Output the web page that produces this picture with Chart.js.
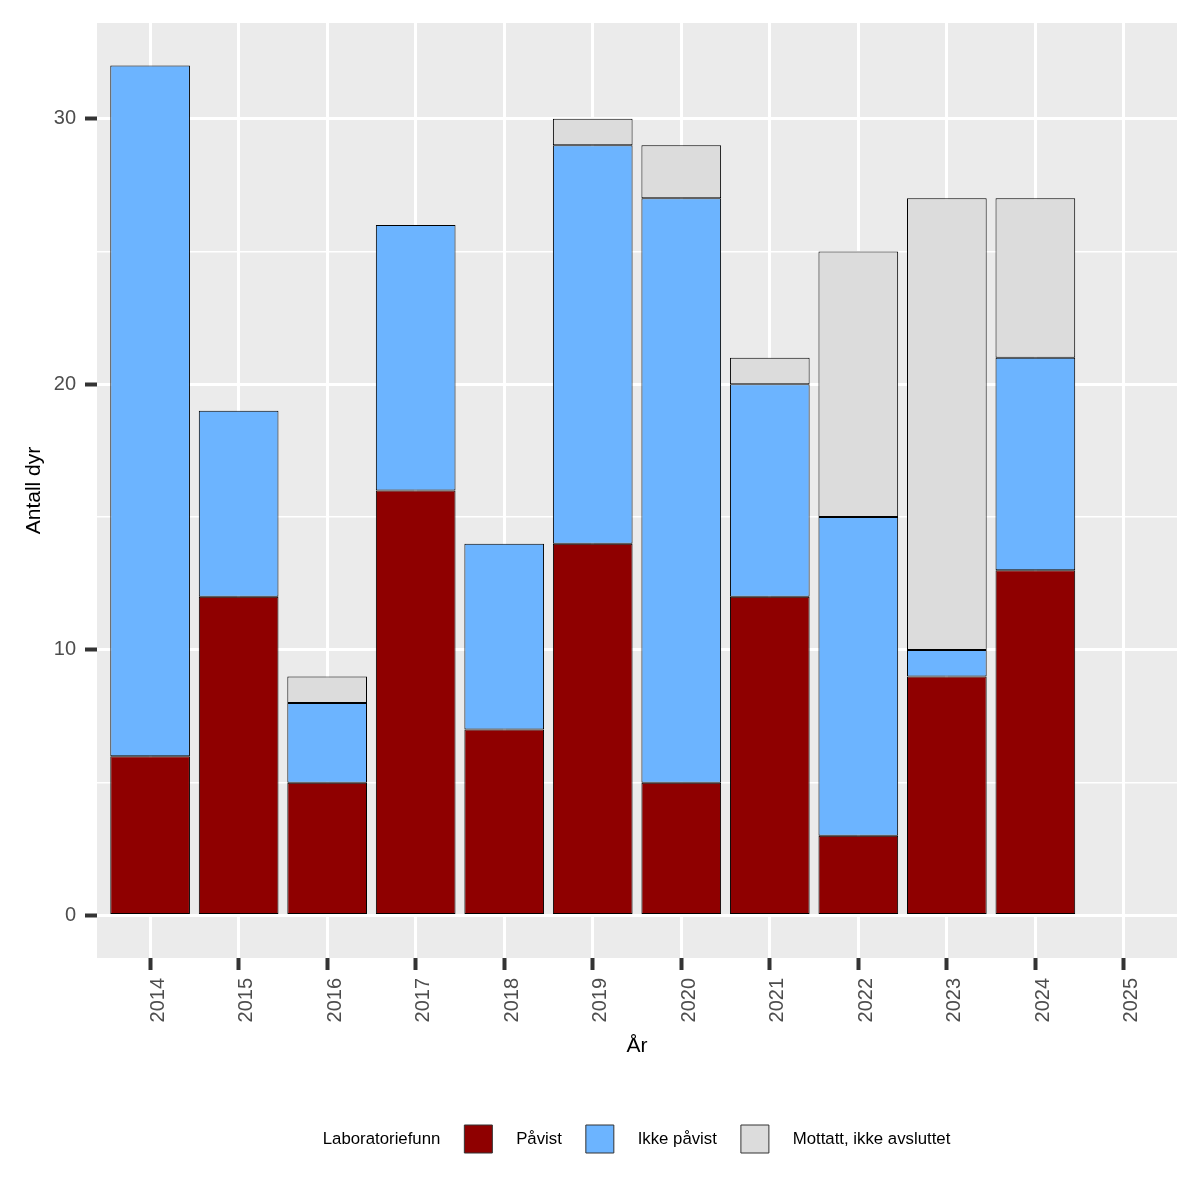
<!DOCTYPE html>
<html><head><meta charset="utf-8">
<script src="https://cdn.jsdelivr.net/npm/chart.js@4"></script>
<style>html,body{margin:0;padding:0;background:#fff}canvas{display:block}</style>
</head><body>
<canvas id="c" width="1200" height="1200"></canvas>
<script>
// ---- data ----
const years = ['2014','2015','2016','2017','2018','2019','2020','2021','2022','2023','2024','2025'];
const pavist     = [6, 12, 5, 16, 7, 14, 5, 12, 3, 9, 13, 0];
const ikkePavist = [26, 7, 3, 10, 7, 15, 22, 8, 12, 1, 8, 0];
const mottatt    = [0, 0, 1, 0, 0, 1, 2, 1, 10, 17, 6, 0];
const yTickLabels = [0, 10, 20, 30];
const seriesNames = ['Påvist', 'Ikke påvist', 'Mottatt, ikke avsluttet'];
const seriesColors = ['#8F0000', '#6CB4FF', '#DCDCDC'];
const legendTitle = 'Laboratoriefunn';
const xTitle = 'År';
const yTitle = 'Antall dyr';

// ---- build ----
Chart.defaults.font.family = "'Liberation Sans', Arial, Helvetica, sans-serif";
const toPoints = arr => arr.map((v, i) => ({x: i + 1, y: v === 0 ? null : v}));
const series = [pavist, ikkePavist, mottatt];
const datasets = series.map((arr, i) => ({
  label: seriesNames[i],
  data: toPoints(arr),
  backgroundColor: seriesColors[i],
  borderColor: '#000000',
  borderWidth: 1,
  borderSkipped: false,
  categoryPercentage: 1,
  barPercentage: 0.9
}));

const panelBg = {
  id: 'panelBg',
  beforeDraw(chart) {
    const {ctx, chartArea: a} = chart;
    ctx.save();
    ctx.fillStyle = '#EBEBEB';
    ctx.fillRect(a.left, a.top, a.right - a.left, a.bottom - a.top);
    ctx.restore();
  }
};

const isMajorY = v => yTickLabels.includes(v);
const lead = '   \u200A';

new Chart(document.getElementById('c'), {
  type: 'bar',
  data: {datasets},
  plugins: [panelBg],
  options: {
    responsive: false,
    animation: false,
    layout: {padding: {top: 23, right: 23, bottom: 37, left: 0}},
    plugins: {
      tooltip: {enabled: false},
      legend: {
        position: 'bottom',
        fullSize: false,
        onClick: () => {},
        labels: {
          boxWidth: 28,
          boxHeight: 28,
          padding: 24,
          color: '#000',
          font: {size: 16.8},
          generateLabels(chart) {
            const ds = chart.data.datasets;
            const items = [{text: legendTitle, fillStyle: 'rgba(0,0,0,0)', strokeStyle: 'rgba(0,0,0,0)',
              lineWidth: 0, hidden: false, datasetIndex: -1, fontColor: '#000'}];
            ds.forEach((d, i) => items.push({
              text: lead + d.label + (i === ds.length - 1 ? '        ' : ''),
              fillStyle: d.backgroundColor, strokeStyle: '#333', lineWidth: 1,
              hidden: false, datasetIndex: i, fontColor: '#000'
            }));
            return items;
          }
        }
      }
    },
    scales: {
      x: {
        type: 'linear',
        stacked: true,
        offset: false,
        min: 0.4,
        max: 12.6,
        afterFit(s) { s.height = 143; },
        border: {display: false},
        grid: {offset: false, color: '#FFFFFF', lineWidth: 3, tickColor: '#333333', tickLength: 12, tickWidth: 4},
        ticks: {
          stepSize: 1,
          includeBounds: false,
          autoSkip: false,
          minRotation: 90,
          maxRotation: 90,
          padding: 8,
          labelOffset: 8,
          color: '#4D4D4D',
          font: {size: 20},
          callback: v => (Number.isInteger(v) && years[v - 1] !== undefined) ? years[v - 1] : ''
        },
        title: {display: true, text: xTitle, color: '#000', font: {size: 21}, padding: {top: 4, bottom: 42}}
      },
      y: {
        stacked: true,
        min: -1.6,
        max: 33.6,
        afterFit(s) { s.width = 97; },
        border: {display: false},
        grid: {
          color: '#FFFFFF',
          lineWidth: c => isMajorY(c.tick && c.tick.value) ? 3 : 1.5,
          tickColor: c => isMajorY(c.tick && c.tick.value) ? '#333333' : 'rgba(0,0,0,0)',
          tickLength: 12,
          tickWidth: 4
        },
        ticks: {
          stepSize: 5,
          includeBounds: false,
          padding: 9,
          color: '#4D4D4D',
          font: {size: 20},
          callback: v => isMajorY(v) ? String(v) : ''
        },
        title: {display: true, text: yTitle, color: '#000', font: {size: 21}, padding: {top: 22, bottom: 0}}
      }
    }
  }
});
</script>
</body></html>
